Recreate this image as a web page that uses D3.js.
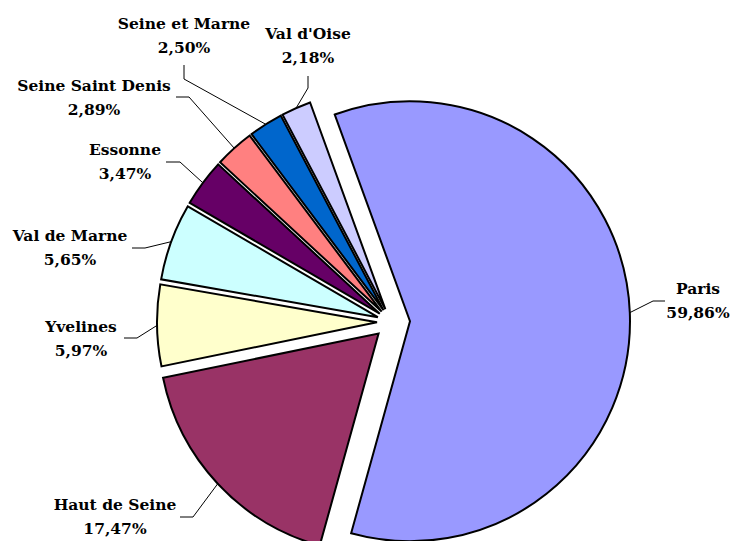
<!DOCTYPE html>
<head>
  <meta charset="utf-8">
  <script src="https://cdnjs.cloudflare.com/ajax/libs/d3/7.8.5/d3.min.js"></script>
  <style>
    body { margin: 0; background: #fff; }
    svg { width: 732px; height: 541px; display: block; }
    text { font-family: "DejaVu Serif", serif; font-weight: bold; font-size: 15.5px; fill: #000; }
  </style>
</head>

<body>
  <svg></svg>

  <script>
    // départements, share of total (%)
    const depts = ['Paris', 'Haut de Seine', 'Yvelines', 'Val de Marne', 'Essonne',
                   'Seine Saint Denis', 'Seine et Marne', "Val d'Oise"];
    const shares = [59.86, 17.47, 5.97, 5.65, 3.47, 2.89, 2.50, 2.18];

    const colors = ['#9999ff', '#993366', '#ffffcc', '#ccffff', '#660066',
                    '#ff8080', '#0066cc', '#ccccff'];
    const explode = [19, 17, 14, 14, 14, 14, 14, 14];

    // label placement (text centre / first baseline, leader elbow, leader end)
    const labelPos = [
      { x: 698, y: 294, elbow: [653, 301], end: [665, 301] },
      { x: 115, y: 510, elbow: [193, 517], end: [180, 517] },
      { x: 81,  y: 332, elbow: [137, 338], end: [124, 338] },
      { x: 70,  y: 241, elbow: [145, 248], end: [132, 248] },
      { x: 125, y: 155, elbow: [180, 162], end: [166, 162] },
      { x: 94,  y: 91,  elbow: [189, 97],  end: [176, 97] },
      { x: 184, y: 29,  elbow: [184, 79],  end: [184, 65] },
      { x: 308, y: 39,  elbow: [308, 88],  end: [308, 76] }
    ];

    const cx = 391, cy = 322, radius = 220;
    const firstAngle = -20 * Math.PI / 180;

    const svg = d3.select('svg');

    const fr = d3.formatLocale({ decimal: ',', thousands: ' ', grouping: [3], currency: ['', ' €'] });
    const pct = fr.format('.2%');

    const data = depts.map((name, i) => ({ name: name, value: shares[i], i: i }));

    const pie = d3.pie()
      .sort(null)
      .value(d => d.value)
      .startAngle(firstAngle)
      .endAngle(firstAngle + 2 * Math.PI);

    const arc = d3.arc().innerRadius(0).outerRadius(radius);

    const arcs = pie(data);
    arcs.forEach(a => {
      const mid = (a.startAngle + a.endAngle) / 2;
      const d = explode[a.data.i];
      a.mid = mid;
      a.dx = cx + Math.sin(mid) * d;
      a.dy = cy - Math.cos(mid) * d;
    });

    const g = svg.append('g');

    g.selectAll('path.slice')
      .data(arcs).enter().append('path')
      .attr('class', 'slice')
      .attr('d', arc)
      .attr('transform', a => `translate(${a.dx},${a.dy})`)
      .attr('fill', a => colors[a.data.i])
      .attr('stroke', '#000')
      .attr('stroke-width', 2)
      .attr('stroke-linejoin', 'miter');

    // leader lines
    g.selectAll('polyline.leader')
      .data(arcs).enter().append('polyline')
      .attr('class', 'leader')
      .attr('fill', 'none')
      .attr('stroke', '#000')
      .attr('stroke-width', 1)
      .attr('points', a => {
        const p = labelPos[a.data.i];
        const sx = a.dx + Math.sin(a.mid) * radius;
        const sy = a.dy - Math.cos(a.mid) * radius;
        return [[sx, sy], p.elbow, p.end].map(q => q.join(',')).join(' ');
      });

    const labels = g.selectAll('text.lbl')
      .data(arcs).enter().append('text')
      .attr('class', 'lbl')
      .attr('text-anchor', 'middle')
      .attr('x', a => labelPos[a.data.i].x)
      .attr('y', a => labelPos[a.data.i].y);

    labels.append('tspan')
      .attr('x', a => labelPos[a.data.i].x)
      .text(a => a.data.name);
    labels.append('tspan')
      .attr('x', a => labelPos[a.data.i].x)
      .attr('dy', 24)
      .text(a => pct(a.data.value / 100));
  </script>
</body>
